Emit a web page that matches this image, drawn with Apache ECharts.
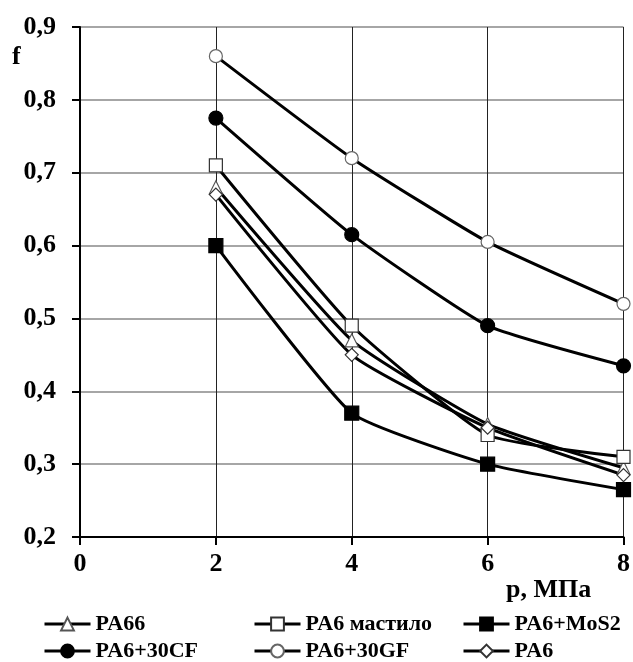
<!DOCTYPE html>
<html><head><meta charset="utf-8">
<script src="https://cdn.jsdelivr.net/npm/echarts@6/dist/echarts.min.js"></script>
<style>html,body{margin:0;padding:0;background:#fff}#c{width:633px;height:662px}</style>
</head><body><div id="c"></div>
<script>
const pressure = [2, 4, 6, 8];
const pa66 = [0.68, 0.47, 0.355, 0.295];
const pa6Grease = [0.71, 0.49, 0.34, 0.31];
const pa6MoS2 = [0.60, 0.37, 0.30, 0.265];
const pa6CF = [0.775, 0.615, 0.49, 0.435];
const pa6GF = [0.86, 0.72, 0.605, 0.52];
const pa6 = [0.67, 0.45, 0.35, 0.285];
const names = ['PA66', 'PA6 мастило', 'PA6+MoS2', 'PA6+30CF', 'PA6+30GF', 'PA6'];
const xTicks = [0, 2, 4, 6, 8];
const yTicks = [0.2, 0.3, 0.4, 0.5, 0.6, 0.7, 0.8, 0.9];

const FONT = '"Liberation Serif", "Times New Roman", serif';
const pts = arr => pressure.map((p, i) => [p, arr[i]]);
const styles = [
  {symbol: 'triangle', size: 13, fill: '#fff', stroke: '#555'},
  {symbol: 'rect', size: 13, fill: '#fff', stroke: '#333'},
  {symbol: 'rect', size: 14, fill: '#000', stroke: '#000'},
  {symbol: 'circle', size: 14, fill: '#000', stroke: '#000'},
  {symbol: 'circle', size: 13, fill: '#fff', stroke: '#666'},
  {symbol: 'diamond', size: 13, fill: '#fff', stroke: '#333'}
];
const data = [pa66, pa6Grease, pa6MoS2, pa6CF, pa6GF, pa6];
const series = data.map((d, i) => ({
  name: names[i], type: 'line', data: pts(d), smooth: 0.15,
  symbol: styles[i].symbol, symbolSize: styles[i].size, showAllSymbol: true,
  lineStyle: {color: '#000', width: 3},
  itemStyle: {color: styles[i].fill, borderColor: styles[i].stroke, borderWidth: 1.2},
  z: 3
}));
const legendPos = [[43, 613], [253, 613], [462, 613], [43, 640], [253, 640], [462, 640]];
const legends = names.map((n, i) => ({
  data: [n], left: legendPos[i][0], top: legendPos[i][1],
  itemWidth: 46, itemHeight: 16, itemGap: 0, padding: 0,
  lineStyle: {color: '#000', width: 3},
  textStyle: {fontFamily: FONT, fontWeight: 'bold', fontSize: 22, color: '#000', padding: [0, 0, 0, 0]}
}));
const chart = echarts.init(document.getElementById('c'), null, {renderer: 'canvas'});
chart.setOption({
  animation: false,
  backgroundColor: '#fff',
  grid: {left: 80, right: 9, top: 27, bottom: 125, containLabel: false},
  legend: legends,
  xAxis: {
    type: 'value', min: xTicks[0], max: xTicks[xTicks.length - 1], interval: 2,
    axisLine: {onZero: false, lineStyle: {color: '#000', width: 2}},
    axisTick: {show: true, length: 8, lineStyle: {color: '#000', width: 2}},
    axisLabel: {fontFamily: FONT, fontWeight: 'bold', fontSize: 26, color: '#000', margin: 14},
    splitLine: {show: true, lineStyle: {color: '#222', width: 1}}
  },
  yAxis: {
    type: 'value', min: yTicks[0], max: yTicks[yTicks.length - 1], interval: 0.1,
    axisLine: {show: true, lineStyle: {color: '#000', width: 2}},
    axisTick: {show: true, length: 8, lineStyle: {color: '#000', width: 2}},
    axisLabel: {fontFamily: FONT, fontWeight: 'bold', fontSize: 26, color: '#000', margin: 24,
      formatter: v => v.toFixed(1).replace('.', ',')},
    splitLine: {show: true, lineStyle: {color: '#888', width: 1.5}}
  },
  graphic: [
    {type: 'text', left: 12, top: 44, style: {text: 'f', font: 'bold 26px ' + FONT, fill: '#000'}},
    {type: 'text', left: 506, top: 577, style: {text: 'p, МПа', font: 'bold 26px ' + FONT, fill: '#000'}}
  ],
  series: series
});
</script></body></html>
